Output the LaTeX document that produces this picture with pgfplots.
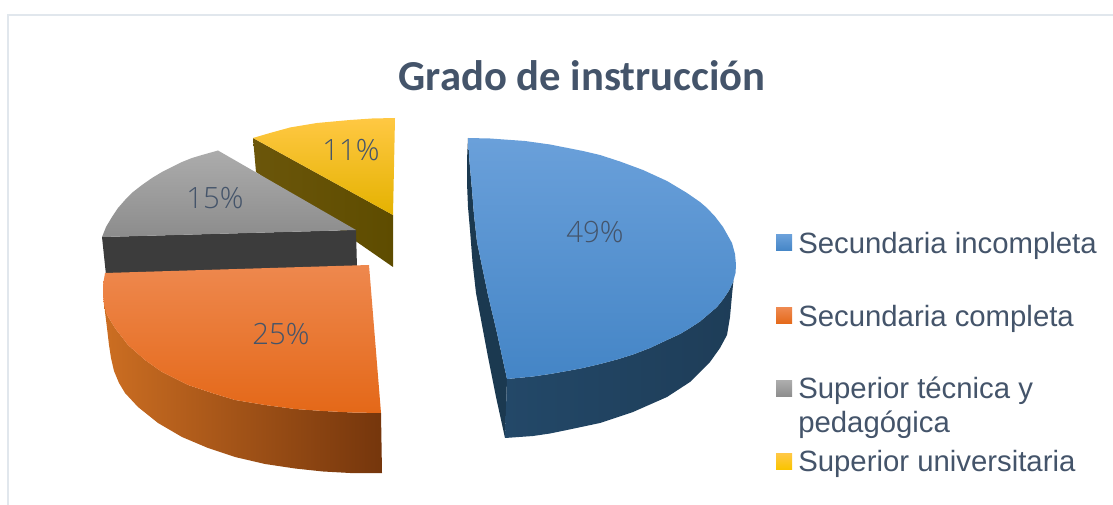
\documentclass[border=0pt]{standalone}
\usepackage{pgfplots}
\pgfplotsset{compat=1.18}
\usepackage{fontspec}
\setmainfont{Liberation Sans}
\newfontfamily\titlefont{Carlito}
\newfontfamily\labelfont{Open Sans Light}
\definecolor{txt}{HTML}{44546A}
\definecolor{frame}{HTML}{E1E7ED}
\definecolor{ya}{HTML}{FFC843}\definecolor{yb}{HTML}{FAC400}\definecolor{yc}{HTML}{E4B200}
\definecolor{ysa}{HTML}{6B560A}\definecolor{ysb}{HTML}{5E4C00}
\definecolor{ga}{HTML}{ACACAC}\definecolor{gb}{HTML}{8C8C8C}\definecolor{gs}{HTML}{3C3C3C}
\definecolor{oa}{HTML}{EE884E}\definecolor{ob}{HTML}{EE7424}\definecolor{oc}{HTML}{E46818}
\definecolor{osa}{HTML}{CC6E22}\definecolor{osb}{HTML}{A65212}\definecolor{osc}{HTML}{75360C}
\definecolor{ba}{HTML}{6AA0DA}\definecolor{bb}{HTML}{5698D6}\definecolor{bc}{HTML}{4485C6}
\definecolor{bsa}{HTML}{234868}\definecolor{bsb}{HTML}{1B3950}\definecolor{bsc}{HTML}{1E3D58}
\begin{document}
\begin{tikzpicture}
\begin{axis}[scale only axis,width=834.75pt,height=378.75pt,
  xmin=0,xmax=1113,ymin=0,ymax=505,y dir=reverse,axis lines=none,clip=false]
\path[use as bounding box] (axis cs:0,0) rectangle (axis cs:1113,505);
\draw[frame,line width=1.5pt] (axis cs:8,505) -- (axis cs:8,15) -- (axis cs:1113,15);

% yellow side
\addplot[draw=none,left color=ysa,right color=ysb] coordinates {(253,138) (393,215) (393,267) (256,172)};
% yellow top
\addplot[draw=none,top color=ya,middle color=yb,bottom color=yc] coordinates {(253,138) (270,133) (290,127.5) (317,123) (350,120) (372,118.5) (395,118) (393,215)};
% grey front
\addplot[draw=none,fill=gs] coordinates {(102,237) (356,230) (357,268) (106,275)};
% grey top
\addplot[draw=none,top color=ga,bottom color=gb] coordinates {(218,150.5) (356,230) (102,237) (106,227) (112,217) (118,208) (125,200) (133,192) (142,185) (152,178) (162,172) (172,167) (182,162) (192,158) (202,155)};
% orange side
\addplot[draw=none,left color=osa,middle color=osb,right color=osc] coordinates {(104,300) (105,312) (107,328) (109,345) (111,358) (114,371) (119,383) (125,393) (138,407) (158,423) (182,437) (208,448) (235,457) (265,464) (295,468.5) (323,471.5) (350,473) (382,473) (381,413) (352,412.5) (323,411) (295,409) (265,405) (235,400) (212,393) (188,385) (162,372) (145,360) (128,345) (115,328) (107,315)};
% orange top
\addplot[draw=none,top color=oa,middle color=ob,bottom color=oc] coordinates {(105,273) (369,265) (381,413) (352,412.5) (323,411) (295,409) (265,405) (235,400) (212,393) (188,385) (162,372) (145,360) (128,345) (115,328) (107,315) (104,305) (103,296) (103,285)};
% blue left sliver
\addplot[draw=none,fill=bsb] coordinates {(468,138) (467,160) (467,183) (468,207) (470,230) (472.5,262) (476,293) (482,325) (488,357) (496,397) (505,438) (507,379) (497,333) (488,295) (477,242) (474,215) (472,190) (469.5,162)};
% blue side
\addplot[draw=none,left color=bsa,middle color=bsb,right color=bsc] coordinates {(505,438) (533,436) (550,433.5) (567,430) (600,423) (633,412) (667,397) (690,382) (710,362) (720,348) (727,335) (730,317) (732,295) (733.5,280) (733,282) (729,290.5) (723,299.5) (717,307) (710,313) (700,321.5) (690,328) (680,334) (667,340) (650,348) (633,354.5) (617,359.5) (600,364) (583,368) (567,371) (550,374) (533,376.5) (507,379)};
% blue top
\addplot[draw=none,top color=ba,middle color=bb,bottom color=bc] coordinates {(468,138) (490,138.5) (525,141) (550,144.5) (583,151) (600,155) (620,161.5) (643,170) (667,181) (687,193) (700,202) (707,208) (715,216.5) (723,227) (732,243) (735,254) (736,265) (735.5,273) (733,282) (729,290.5) (723,299.5) (717,307) (710,313) (700,321.5) (690,328) (680,334) (667,340) (650,348) (633,354.5) (617,359.5) (600,364) (583,368) (567,371) (550,374) (533,376.5) (507,379) (497,333) (488,295) (477,242) (474,215) (472,190) (469.5,162)};

% legend keys
\addplot[draw=none,top color=ba,bottom color=bc] coordinates {(776,235) (792,235) (792,251) (776,251)};
\addplot[draw=none,top color=oa,bottom color=oc] coordinates {(776,308) (792,308) (792,324) (776,324)};
\addplot[draw=none,top color=ga,bottom color=gb] coordinates {(776,381) (792,381) (792,397) (776,397)};
\addplot[draw=none,top color=ya,bottom color=yb] coordinates {(776,454) (792,454) (792,469) (776,469)};

\node[text=txt,font=\titlefont\bfseries\fontsize{32}{32}\selectfont] at (axis cs:582,76) {Grado de instrucción};
\node[text=txt,font=\labelfont\fontsize{22}{22}\selectfont] at (axis cs:595,232) {49\%};
\node[text=txt,font=\labelfont\fontsize{22}{22}\selectfont] at (axis cs:281,334) {25\%};
\node[text=txt,font=\labelfont\fontsize{22}{22}\selectfont] at (axis cs:215,198) {15\%};
\node[text=txt,font=\labelfont\fontsize{22}{22}\selectfont] at (axis cs:351,150) {11\%};
\node[anchor=base west,inner sep=0pt,text=txt,font=\fontsize{22}{22}\selectfont] at (axis cs:798,254) {Secundaria incompleta};
\node[anchor=base west,inner sep=0pt,text=txt,font=\fontsize{22}{22}\selectfont] at (axis cs:798,327) {Secundaria completa};
\node[anchor=base west,inner sep=0pt,text=txt,font=\fontsize{22}{22}\selectfont] at (axis cs:798,399) {Superior técnica y};
\node[anchor=base west,inner sep=0pt,text=txt,font=\fontsize{22}{22}\selectfont] at (axis cs:798,433) {pedagógica};
\node[anchor=base west,inner sep=0pt,text=txt,font=\fontsize{22}{22}\selectfont] at (axis cs:798,471) {Superior universitaria};
\end{axis}
\end{tikzpicture}
\end{document}
